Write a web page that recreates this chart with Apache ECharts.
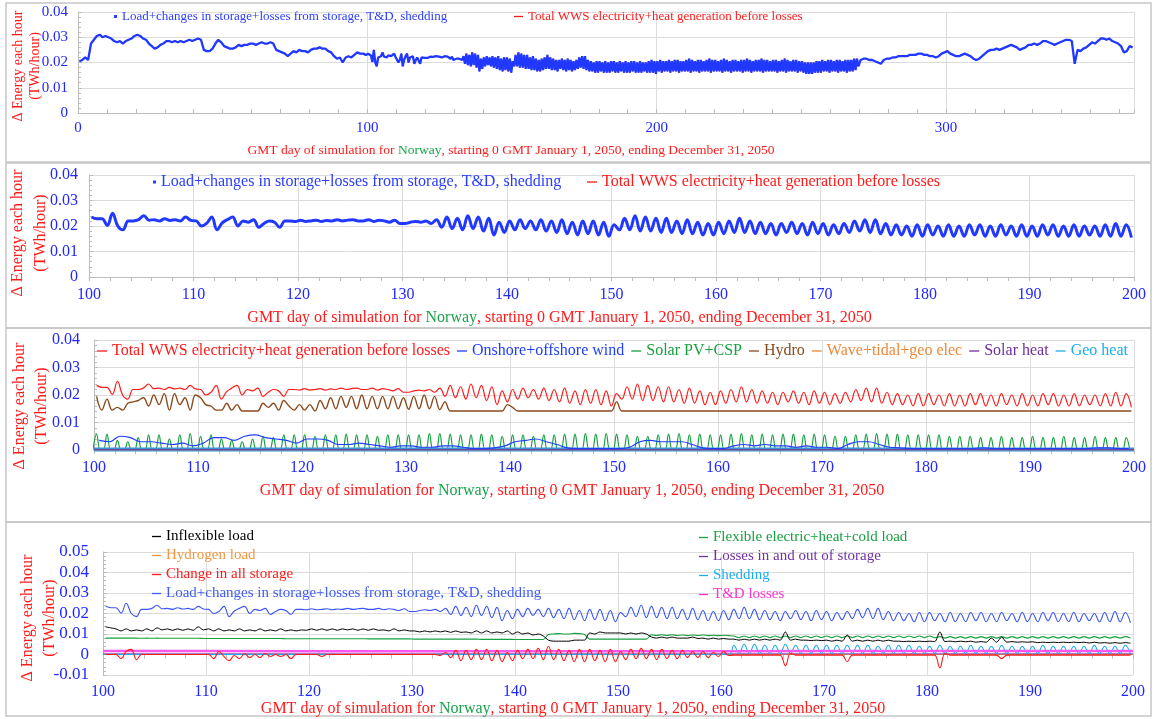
<!DOCTYPE html>
<html><head><meta charset="utf-8">
<script src="https://cdn.jsdelivr.net/npm/echarts@6/dist/echarts.min.js"></script>
<style>html,body{margin:0;padding:0;background:#fff}#c{width:1156px;height:719px}</style>
</head><body><div id="c"></div>
<script>
// All energy values below are in units of 0.001 TWh/hour.
// Load (= total WWS generation) for days 100..199: value near day+0.25 (A) and day+0.75 (B)
const loadA = [
23.5,22.8,25.0,18.5,22.0,24.0,22.5,22.8,22.5,23.5,
22.0,21.0,18.5,22.5,20.0,21.5,19.5,22.0,19.5,22.0,
22.3,22.0,21.8,22.0,22.0,22.5,22.0,21.8,22.0,22.3,
21.0,21.8,22.0,22.5,23.5,23.0,24.0,23.5,23.0,21.5,
22.0,22.5,22.0,22.5,22.0,22.5,21.5,22.0,22.0,21.5,
20.5,23.0,24.0,23.5,23.0,23.0,22.0,22.5,21.5,21.0,
21.5,22.0,23.0,22.0,21.5,21.0,21.0,21.5,21.0,21.5,
21.0,20.5,21.0,22.0,22.5,22.5,21.0,20.5,20.0,20.5,
20.5,20.0,20.5,20.0,20.5,20.5,20.0,20.5,20.0,20.5,
20.0,20.5,20.5,20.0,20.5,20.0,20.0,20.5,21.0,20.5];
const loadB = [
22.8,20.2,20.0,22.0,22.5,22.3,22.0,22.2,22.0,22.2,
20.0,23.5,21.2,23.5,22.0,22.5,21.0,21.5,22.0,21.8,
21.8,22.3,22.2,22.5,22.3,22.0,22.5,22.3,21.5,21.0,
21.5,21.5,21.0,19.5,19.0,18.5,19.0,18.0,16.5,17.5,
18.5,19.0,18.5,18.0,17.5,17.0,16.5,17.0,16.5,16.0,
18.5,18.5,18.0,18.0,17.5,17.5,17.0,17.0,16.5,16.5,
17.0,17.5,17.5,17.0,17.0,16.5,17.5,17.0,16.5,17.0,
16.5,17.0,17.5,18.0,17.5,17.0,16.5,16.5,16.0,16.0,
16.5,16.0,16.0,16.0,16.5,16.0,16.0,16.5,16.0,16.0,
16.0,16.5,16.0,16.0,16.0,16.5,16.0,16.0,16.0,15.5];
// Whole year (panel 1): days 0..99, one value per day
const yearEarly = [
20.5,21.0,22.0,21.0,27.5,29.0,30.5,31.0,30.0,30.5,
30.0,29.5,28.5,28.0,28.5,27.5,28.5,29.0,29.5,30.5,
31.0,30.5,29.5,29.0,27.5,26.5,25.5,26.0,27.0,27.5,
28.5,28.5,28.0,28.5,28.0,28.5,28.0,28.5,29.0,28.5,
29.0,29.5,29.0,25.0,24.5,24.5,25.5,27.5,29.0,28.0,
26.5,26.0,25.5,25.5,26.0,27.0,26.5,27.0,27.0,27.5,
27.5,27.0,27.5,28.0,27.5,27.5,28.0,27.5,25.0,24.5,
24.0,23.5,22.5,23.5,24.5,24.0,25.0,24.5,24.5,24.0,
25.0,25.5,25.5,26.0,25.5,25.5,24.5,24.0,22.5,21.5,
22.0,20.0,22.0,22.5,22.0,23.0,24.0,23.5,23.5,23.0];
// days 200..269, daily high (A) and low (B)
const yearBandA = [
20.5,21.0,20.5,20.5,21.0,20.5,21.0,21.0,20.5,20.5,
21.0,21.5,21.0,20.5,21.0,21.0,20.5,21.0,21.5,21.0,
21.0,20.5,21.0,21.5,21.0,20.5,21.0,21.0,20.5,21.0,
21.0,21.5,21.0,20.5,21.0,21.0,21.5,21.0,21.0,20.5,
21.0,21.0,20.5,21.0,21.5,21.0,20.5,21.0,21.0,20.5,
20.5,20.0,20.0,20.0,20.0,20.5,20.5,21.0,20.5,21.0,
21.0,20.5,21.0,21.0,20.5,21.0,21.0,21.0,21.5,21.5];
const yearBandB = [
16.5,16.0,16.5,16.5,16.0,16.5,16.5,16.0,16.5,16.5,
16.5,16.0,16.5,16.5,16.0,16.5,16.5,16.5,16.0,16.5,
16.5,16.5,16.0,16.5,16.5,16.0,16.5,16.5,16.5,16.0,
16.5,16.5,16.0,16.5,16.5,16.5,16.0,16.5,16.5,16.5,
16.5,16.0,16.5,16.5,16.0,16.5,16.5,16.5,16.0,16.5,
16.0,15.5,15.5,15.5,16.0,16.0,16.0,16.5,16.5,16.0,
16.5,16.5,16.0,16.5,16.5,16.0,16.5,16.5,17.0,18.5];
// days 270..364, one value per day
const yearLate = [
21.0,21.5,21.5,21.0,21.0,20.5,20.0,19.5,21.0,21.5,
21.5,22.0,22.0,22.5,22.5,22.5,22.5,23.0,23.0,23.0,
23.5,23.5,23.0,23.0,22.5,22.5,22.0,22.5,23.5,24.0,
24.5,23.5,23.0,22.5,22.5,23.0,23.5,23.0,22.5,21.5,
21.0,21.5,22.5,23.5,24.5,25.0,25.0,25.5,25.0,25.5,
26.0,26.5,27.0,26.5,26.0,25.0,25.5,26.0,27.0,27.0,
27.5,27.0,27.5,28.5,28.5,28.0,27.5,27.0,27.5,28.0,
28.5,29.0,29.0,28.5,19.5,25.0,24.5,25.5,26.0,27.0,
28.0,27.5,28.5,29.5,29.5,29.0,29.5,28.5,28.0,27.5,
26.5,24.0,24.5,26.5,26.0];
// Panel 3, days 100..199
const hydroA = [
19.5,18.5,15.5,17.0,18.0,16.0,16.5,14.5,16.5,14.5,
19.0,16.0,14.5,14.5,14.2,14.2,17.0,17.0,18.0,14.5,
14.5,14.2,15.0,15.0,15.5,15.0,15.0,15.0,15.0,15.0,
14.8,15.0,15.0,14.7,14.2,14.2,14.2,14.2,14.2,14.2,
15.5,14.2,14.2,14.2,14.2,14.2,14.2,14.2,14.2,14.2,
17.5,14.2,14.2,14.2,14.2,14.2,14.2,14.2,14.2,14.2,
14.2,14.2,14.2,14.2,14.2,14.2,14.2,14.2,14.2,14.2,
14.2,14.2,14.2,14.2,14.2,14.2,14.2,14.2,14.2,14.2,
14.2,14.2,14.2,14.2,14.2,14.2,14.2,14.2,14.2,14.2,
14.2,14.2,14.2,14.2,14.2,14.2,14.2,14.2,14.2,14.2];
const hydroB = [
14.5,14.5,14.5,17.5,19.0,20.0,20.5,20.5,19.0,20.0,
16.5,14.5,17.0,16.5,14.2,14.2,15.5,14.5,16.0,16.5,
16.5,18.0,19.0,19.5,19.5,20.0,19.5,19.5,19.5,19.0,
19.5,20.0,19.5,17.5,14.2,14.2,14.2,14.2,14.2,16.5,
14.2,14.2,14.2,14.2,14.2,14.2,14.2,14.2,14.2,14.2,
14.2,14.2,14.2,14.2,14.2,14.2,14.2,14.2,14.2,14.2,
14.2,14.2,14.2,14.2,14.2,14.2,14.2,14.2,14.2,14.2,
14.2,14.2,14.2,14.2,14.2,14.2,14.2,14.2,14.2,14.2,
14.2,14.2,14.2,14.2,14.2,14.2,14.2,14.2,14.2,14.2,
14.2,14.2,14.2,14.2,14.2,14.2,14.2,14.2,14.2,14.2];
const solarPeak = [
5.8,5.8,3.5,3.0,4.5,5.5,5.5,4.0,5.5,6.0,
5.0,5.5,4.0,3.5,3.0,4.0,5.0,4.5,5.5,5.5,
5.5,5.0,5.5,5.5,5.8,5.5,5.5,5.0,5.5,5.5,
5.5,5.5,6.0,6.0,5.8,5.5,5.5,5.8,5.5,5.0,
5.5,5.5,5.0,5.5,5.5,5.8,5.8,6.0,5.8,6.0,
5.8,5.5,5.0,5.0,5.5,5.8,6.0,5.5,5.8,5.5,
5.5,5.8,6.0,5.5,5.8,5.5,5.8,5.8,5.5,5.8,
5.5,5.0,5.0,5.5,5.8,6.0,5.8,5.8,5.5,5.5,
5.5,5.5,5.0,5.0,5.0,4.5,4.5,5.0,4.5,4.5,
5.0,4.5,4.5,5.0,4.5,4.5,5.0,4.5,4.5,4.5];
const windDaily = [
3.5,3.0,5.0,4.5,3.0,3.0,2.5,2.0,2.5,1.5,
2.5,4.5,4.5,3.5,5.0,5.5,4.5,4.0,3.5,2.5,
4.0,4.0,3.5,2.0,2.0,2.5,2.0,1.5,1.0,1.5,
1.5,1.0,1.0,1.5,1.5,1.0,0.5,0.5,0.8,1.5,
3.0,3.5,4.0,3.0,2.0,0.8,0.5,0.5,0.5,0.5,
0.5,1.0,3.0,3.5,3.0,3.0,3.0,2.0,0.8,0.5,
0.5,1.5,2.0,1.5,2.0,1.5,1.5,1.0,1.5,1.0,
1.0,0.5,2.0,3.0,3.0,2.0,1.0,0.8,0.5,0.5,
0.5,0.5,0.5,0.5,0.5,0.8,0.5,0.5,0.5,0.5,
0.5,0.5,0.5,0.5,0.5,0.5,0.8,0.8,0.5,0.5];
const tenDays = [100,110,120,130,140,150,160,170,180,190,200];
const waveVals  = [0,0,0,0,0,0,0,0,0,0,0];
const sHeatVals = [0.1,0.1,0.1,0.1,0.1,0.1,0.1,0.1,0.1,0.1,0.1];
const gHeatVals = [0.2,0.2,0.2,0.2,0.2,0.2,0.2,0.2,0.2,0.2,0.2];
// Panel 4, days 100..199
const inflexA = [
13.5,12.5,12.5,12.0,12.5,13.0,12.5,12.5,12.5,13.5,
12.5,12.5,12.0,12.5,12.0,12.5,12.0,12.5,12.0,12.0,
12.5,12.5,12.5,12.5,12.5,12.5,12.5,12.0,12.5,12.0,
11.5,11.5,11.5,11.5,11.5,11.0,11.5,11.5,11.0,11.5,
11.0,10.5,10.0,7.0,6.5,6.5,7.0,10.5,11.0,10.5,
10.5,10.5,10.5,8.5,8.5,8.5,8.0,8.5,8.0,8.0,
7.8,7.5,7.5,7.5,7.5,7.5,11.0,7.5,7.0,7.0,
7.0,7.0,9.5,7.0,7.0,7.0,7.0,6.5,6.5,6.5,
6.5,11.0,6.5,6.5,6.5,6.3,8.0,8.5,6.3,6.2,
6.2,6.0,6.0,6.0,6.0,6.0,6.0,5.8,5.8,5.8];
const inflexB = [
13.0,11.5,11.5,11.5,11.5,12.0,11.8,11.8,11.8,12.0,
11.5,11.5,11.5,11.5,11.5,11.5,11.5,11.5,11.5,11.8,
11.8,11.8,11.8,12.0,11.8,11.8,11.8,11.5,11.5,11.5,
11.0,11.0,11.0,10.8,10.8,10.5,10.5,10.5,10.5,10.0,
10.0,9.5,9.0,6.5,6.5,7.0,7.0,10.0,10.5,10.5,
10.0,10.0,10.0,8.0,8.0,8.0,8.0,7.8,7.5,7.5,
7.5,7.0,7.0,7.0,7.0,7.0,7.0,7.0,6.8,6.8,
6.5,6.5,6.5,6.5,6.5,6.5,6.5,6.3,6.3,6.3,
6.3,6.3,6.2,6.2,6.0,6.0,6.0,6.0,6.0,6.0,
5.8,5.8,5.8,5.8,5.8,5.6,5.6,5.5,5.5,5.5];
const flexA = [
8.0,8.0,8.0,8.0,8.0,8.0,7.9,7.9,7.9,7.9,
7.8,7.8,7.8,7.8,7.8,7.8,7.8,7.8,7.7,7.7,
7.7,7.7,7.7,7.7,7.7,7.7,7.6,7.6,7.6,7.6,
7.5,7.5,7.5,7.5,7.5,7.5,7.5,7.4,7.4,7.4,
7.3,7.3,7.3,9.8,10.2,10.0,10.2,7.5,7.5,7.5,
7.5,7.5,7.5,9.6,9.6,9.6,9.5,9.5,9.5,9.4,
9.4,9.0,9.0,9.0,9.0,9.0,9.0,9.0,9.0,9.0,
9.0,9.0,9.0,9.0,9.0,9.0,9.0,9.0,9.0,9.0,
9.0,8.7,8.7,8.7,8.7,8.7,8.7,8.7,8.7,8.7,
8.7,8.7,8.7,8.7,8.7,8.7,8.7,8.7,8.7,8.7];
const flexB = [
8.0,8.0,8.0,7.9,7.9,7.9,7.9,7.9,7.9,7.8,
7.8,7.8,7.8,7.8,7.8,7.8,7.8,7.7,7.7,7.7,
7.7,7.7,7.7,7.7,7.7,7.6,7.6,7.6,7.6,7.6,
7.5,7.5,7.5,7.5,7.5,7.5,7.4,7.4,7.4,7.4,
7.3,7.3,7.3,10.0,10.0,10.3,9.8,7.5,7.5,7.5,
7.5,7.5,7.5,9.3,9.3,9.3,9.2,9.2,9.2,9.2,
9.2,8.2,8.2,8.2,8.2,8.2,8.2,8.2,8.2,8.2,
8.2,8.2,8.2,8.2,8.2,8.2,8.2,8.2,8.2,8.2,
8.2,8.0,8.0,8.0,8.0,8.0,8.0,8.0,8.0,8.0,
8.0,8.0,8.0,8.0,8.0,8.0,8.0,8.0,8.0,8.0];
const storA = [
0,0,1.5,-2.5,0,0,0,0,0,0,
0,1.5,-3.0,-2.0,-1.5,-1.5,-1.0,-1.0,-2.0,0,
0,-1.0,0,0,0,0,0,0,0,0,
0,0,0,1.0,2.0,2.0,2.5,2.5,2.0,1.0,
2.0,2.5,3.0,4.0,2.5,2.0,2.5,2.5,2.0,2.5,
1.5,2.5,3.0,2.5,2.5,2.0,2.0,1.5,1.5,1.0,
1.5,-0.3,-0.3,-0.3,-0.3,-0.3,-5.5,-0.3,-0.3,-0.3,
-0.3,-0.3,-3.5,-0.3,-0.3,-0.3,-0.3,-0.3,-0.3,-0.3,
-0.3,-6.5,-0.3,-0.3,-0.3,-0.3,-0.3,-2.0,-0.3,-0.3,
-0.3,-0.3,-0.3,-0.3,-0.3,-0.3,-0.3,-0.3,-0.3,-0.3];
const storB = [
0,-2.0,2.5,0,0,0,0,0,0,0,
-2.0,-1.0,-0.5,0.5,0,0.5,0,0,0,0,
0,0,0,0,0,0,0,0,0,0,
0,0,-0.5,-1.5,-3.0,-2.5,-2.5,-3.0,-3.5,-3.0,
-2.0,-2.0,-2.5,-2.5,-3.0,-3.5,-3.5,-3.0,-3.5,-3.5,
-2.5,-2.0,-2.0,-2.5,-2.0,-2.0,-1.5,-1.5,-1.5,-1.0,
-0.5,-0.3,-0.3,-0.3,-0.3,-0.3,0.5,-0.3,-0.3,-0.3,
-0.3,-0.3,-0.3,-0.3,-0.3,-0.3,-0.3,-0.3,-0.3,-0.3,
-0.3,0.5,-0.3,-0.3,-0.3,-0.3,-0.3,-0.3,-0.3,-0.3,
-0.3,-0.3,-0.3,-0.3,-0.3,-0.3,-0.3,-0.3,-0.3,-0.3];
// Shedding: zero until day 161, then days 161..199
const shedZeroDays = [100, 160.75];
const shedZeroVals = [0, 0];
const shedA = [
4.5,5.0,5.0,4.5,4.5,5.0,4.5,4.5,4.5,4.5,
4.5,4.5,4.5,4.5,4.0,4.5,4.5,4.5,4.0,4.0,
4.5,4.0,4.0,4.5,4.0,4.0,4.5,4.0,4.0,4.0,
4.5,4.0,4.0,4.0,4.0,4.5,4.0,4.0,4.5];
const shedB = [
0.5,0.5,0.5,0.5,0.5,0.5,0.5,0.5,0.5,0.5,
0.5,0.5,0.5,0.5,0.5,0.5,0.5,0.5,0.5,0.5,
0.5,0.5,0.5,0.5,0.5,0.5,0.5,0.5,0.5,0.5,
0.5,0.5,0.5,0.5,0.5,0.5,0.5,0.5,0.5];
const h2Vals   = [0,0,0,0,0,0,0,0,0,0,0];
const lossVals = [0.3,0.3,0.3,0.3,0.3,0.3,0.3,0.3,0.3,0.3,0.3];
const tdVals   = [1.7,1.7,1.6,1.6,1.6,1.6,1.6,1.7,1.7,1.7,1.7];

// ---------- helpers ----------
const K = 0.001;
const pairs = (a, b, d0) => { const o = []; a.forEach((v, i) => { o.push([d0 + i + 0.25, v * K], [d0 + i + 0.75, b[i] * K]); }); return o; };
const daily = (a, d0) => a.map((v, i) => [d0 + i + 0.5, v * K]);
const sparse = (days, vals) => days.map((d, i) => [d, vals[i] * K]);
const humps = (p, d0) => { const o = []; p.forEach((v, i) => { o.push([d0 + i - 0.1, 0], [d0 + i + 0.25, v * K], [d0 + i + 0.6, 0]); }); return o; };

const F = 'Liberation Serif';
const TBLUE = '#2128ff', TRED = '#ff1a1a', TGREEN = '#17a34a';
const GRIDC = '#dcdcdc', AXC = '#bdbdbd';
const LOAD = 'Load+changes in storage+losses from storage, T&D, shedding';
const WWS = 'Total WWS electricity+heat generation before losses';
const WIND = 'Onshore+offshore wind', SOLAR = 'Solar PV+CSP', HYDRO = 'Hydro', WAVE = 'Wave+tidal+geo elec', SHEAT = 'Solar heat', GHEAT = 'Geo heat';
const INFLEX = 'Inflexible load', FLEX = 'Flexible electric+heat+cold load', H2 = 'Hydrogen load', LOSS = 'Losses in and out of storage', STOR = 'Change in all storage', SHED = 'Shedding', TD = 'T&D losses';

const loadDet = pairs(loadA, loadB, 100);
const loadYear = daily(yearEarly, 0).concat(loadDet, pairs(yearBandA, yearBandB, 200), daily(yearLate, 270));

function mkX(gi, min, max, interval, minor, fs, margin, nfs, gap, inside, showMax, shiftPad) {
  return {
    type: 'value', gridIndex: gi, min: min, max: max, interval: interval,
    axisLine: { show: true, lineStyle: { color: AXC } },
    axisTick: { show: true, inside: inside, length: 4, lineStyle: { color: AXC } },
    minorTick: { show: true, splitNumber: minor, length: 4, lineStyle: { color: AXC } },
    splitLine: { show: true, lineStyle: { color: GRIDC } },
    axisLabel: { color: TBLUE, fontSize: fs, fontFamily: F, margin: margin, showMaxLabel: showMax, formatter: v => String(Math.round(v)) },
    name: '{r|GMT day of simulation for }{g|Norway}{r|, starting 0 GMT January 1, 2050, ending December 31, 2050}',
    nameLocation: 'middle', nameGap: gap,
    nameTextStyle: { padding: [0, shiftPad, 0, 0], rich: { r: { color: TRED, fontSize: nfs, fontFamily: F }, g: { color: TGREEN, fontSize: nfs, fontFamily: F } } }
  };
}
function mkY(gi, min, max, fs, margin, nfs, gap, lh, shift) {
  return {
    type: 'value', gridIndex: gi, min: min, max: max, interval: 0.01,
    axisLine: { show: true, lineStyle: { color: AXC } },
    axisTick: { show: true, inside: true, length: 4, lineStyle: { color: AXC } },
    minorTick: { show: true, splitNumber: 5, length: 3, lineStyle: { color: AXC } },
    splitLine: { show: true, lineStyle: { color: GRIDC } },
    axisLabel: { color: TBLUE, fontSize: fs, fontFamily: F, margin: margin, formatter: v => String(+v.toFixed(2)) },
    name: 'Δ Energy each hour\n(TWh/hour)', nameLocation: 'middle', nameRotate: 90, nameGap: gap,
    nameMoveOverlap: false,
    nameTextStyle: { color: TRED, fontSize: nfs, fontFamily: F, lineHeight: lh, padding: [0, shift, 0, 0] }
  };
}
function ln(name, gi, data, color, width, extra) {
  return Object.assign({
    name: name, type: 'line', xAxisIndex: gi, yAxisIndex: gi, data: data,
    symbol: 'none', lineStyle: { color: color, width: width }, itemStyle: { color: color },
    emphasis: { disabled: true }, silent: true, z: 2
  }, extra || {});
}
function lg(left, top, fs, items, iw, ih, orient, gap) {
  return {
    left: left, top: top, padding: 0, orient: orient || 'horizontal', itemGap: gap || 8,
    itemWidth: iw, itemHeight: ih, selectedMode: false, width: 1100,
    textStyle: { fontSize: fs, fontFamily: F },
    data: items.map(it => Object.assign({ name: it[0], icon: 'rect', itemStyle: { color: it[1] }, textStyle: { color: it[1] } }, it[2] || {}))
  };
}

const option = {
  animation: false,
  backgroundColor: '#fff',
  textStyle: { fontFamily: F },
  graphic: [
    { type: 'rect', shape: { x: 6, y: 3, width: 1145, height: 159 }, style: { fill: 'none', stroke: '#c6c6c6', lineWidth: 1.5 }, silent: true, z: -5 },
    { type: 'rect', shape: { x: 6, y: 163, width: 1145, height: 165 }, style: { fill: 'none', stroke: '#c6c6c6', lineWidth: 1.5 }, silent: true, z: -5 },
    { type: 'rect', shape: { x: 6, y: 328, width: 1145, height: 194 }, style: { fill: 'none', stroke: '#c6c6c6', lineWidth: 1.5 }, silent: true, z: -5 },
    { type: 'rect', shape: { x: 6, y: 522, width: 1145, height: 194 }, style: { fill: 'none', stroke: '#c6c6c6', lineWidth: 1.5 }, silent: true, z: -5 }
  ],
  grid: [
    { left: 78, top: 12, width: 1056, height: 101, outerBoundsMode: 'none' },
    { left: 89, top: 175, width: 1045, height: 102, outerBoundsMode: 'none' },
    { left: 94, top: 340, width: 1040, height: 110, outerBoundsMode: 'none' },
    { left: 103, top: 552, width: 1030, height: 123, outerBoundsMode: 'none' }
  ],
  xAxis: [
    mkX(0, 0, 365, 100, 10, 15, 8, 13.5, 30, true, false, 190),
    mkX(1, 100, 200, 10, 5, 16, 10, 16, 33, false, true, 104),
    mkX(2, 100, 200, 10, 5, 16, 10, 16, 33, false, true, 84),
    mkX(3, 100, 200, 10, 5, 16, 9, 16, 25, false, true, 90)
  ],
  yAxis: [
    mkY(0, 0, 0.04, 15, 10, 14, 34, 17, 7),
    mkY(1, 0, 0.04, 16, 11, 16, 37, 23, 14),
    mkY(2, 0, 0.04, 16, 14, 16, 41, 22, 22),
    mkY(3, -0.01, 0.05, 17, 14, 16, 42, 22, 9)
  ],
  legend: [
    lg(114, 10, 13, [[LOAD, '#2a3cff']], 3, 3),
    lg(514, 10, 13, [[WWS, '#ff1a1a']], 9, 1.3),
    lg(153, 174, 16, [[LOAD, '#2a3cff']], 3, 3),
    lg(587, 174, 16, [[WWS, '#ff1a1a']], 10, 1.3),
    lg(97, 343, 16, [[WWS, '#ff1a1a'], [WIND, '#1f3fff'], [SOLAR, '#17a040'], [HYDRO, '#8b4a1c'], [WAVE, '#f0883a'], [SHEAT, '#7030a0'], [GHEAT, '#18aef0']], 10, 1.3, 'horizontal', 7),
    lg(152, 529, 15, [[INFLEX, '#000000'], [H2, '#f5963f'], [STOR, '#ff1a1a'], [LOAD, '#3f5cf5']], 9, 1.3, 'vertical', 4),
    lg(699, 530, 15, [[FLEX, '#17a040'], [LOSS, '#7030a0'], [SHED, '#18aef0'], [TD, '#ff33cc']], 9, 1.3, 'vertical', 4)
  ],
  series: [
    // panel 1
    ln(WWS, 0, loadYear, '#ff1a1a', 1),
    ln(LOAD, 0, loadYear, '#2038ff', 2.3, { z: 3 }),
    // panel 2
    ln(WWS, 1, loadDet, '#ff1a1a', 1, { smooth: 0.4 }),
    ln(LOAD, 1, loadDet, '#2038ff', 3, { smooth: 0.4, z: 3 }),
    // panel 3
    ln(HYDRO, 2, pairs(hydroA, hydroB, 100), '#8b4a1c', 1.4, { smooth: 0.4 }),
    ln(WWS, 2, loadDet, '#ff1a1a', 1.2, { smooth: 0.4 }),
    ln(SOLAR, 2, humps(solarPeak, 100), '#17a040', 1.2, { smooth: 0.4 }),
    ln(GHEAT, 2, sparse(tenDays, gHeatVals), '#3b93d8', 4),
    ln(WIND, 2, daily(windDaily, 100), '#1f3fff', 1.2, { smooth: 0.4, z: 3 }),
    ln(WAVE, 2, sparse(tenDays, waveVals), '#f0883a', 1),
    ln(SHEAT, 2, sparse(tenDays, sHeatVals), '#7030a0', 1),
    // panel 4
    ln(H2, 3, sparse(tenDays, h2Vals), '#f5963f', 1),
    ln(LOSS, 3, sparse(tenDays, lossVals), '#7030a0', 1),
    ln(SHED, 3, sparse(shedZeroDays, shedZeroVals).concat(pairs(shedA, shedB, 161)), '#18aef0', 1.1, { smooth: 0.4 }),
    ln(TD, 3, sparse(tenDays, tdVals), '#ff55ee', 2.5),
    ln(STOR, 3, pairs(storA, storB, 100), '#ff1a1a', 1.1, { smooth: 0.4 }),
    ln(FLEX, 3, pairs(flexA, flexB, 100), '#17a040', 1.1, { smooth: 0.3 }),
    ln(INFLEX, 3, pairs(inflexA, inflexB, 100), '#000000', 1, { smooth: 0.3 }),
    ln(LOAD, 3, loadDet, '#3a55f5', 1.1, { smooth: 0.4, z: 3 })
  ]
};
const chart = echarts.init(document.getElementById('c'), null, { renderer: 'canvas' });
chart.setOption(option);
</script></body></html>
